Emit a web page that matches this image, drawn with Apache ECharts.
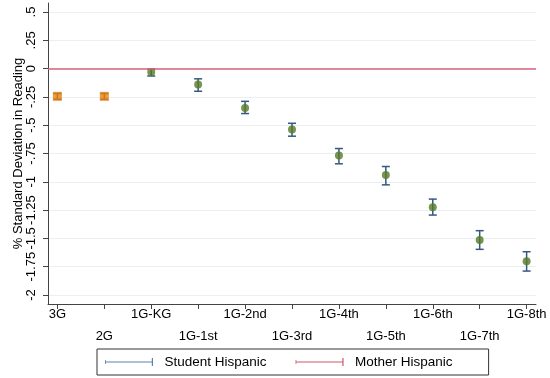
<!DOCTYPE html>
<html>
<head>
<meta charset="utf-8">
<script src="https://cdn.jsdelivr.net/npm/echarts@6/dist/echarts.min.js"></script>
<style>
  html, body { margin: 0; padding: 0; background: #fff; }
  #chart { width: 550px; height: 378px; }
</style>
</head>
<body>
<div id="chart"></div>
<script>
// Generation / grade of arrival groups along the x axis
const categories = ['3G', '2G', '1G-KG', '1G-1st', '1G-2nd', '1G-3rd', '1G-4th', '1G-5th', '1G-6th', '1G-7th', '1G-8th'];

// Point estimates (SD units) and 95% confidence bounds
const estimates = [-0.245, -0.245, -0.03, -0.14, -0.347, -0.538, -0.768, -0.941, -1.224, -1.515, -1.703];
const ciLow     = [-0.27, -0.27, -0.065, -0.20, -0.397, -0.597, -0.841, -1.027, -1.294, -1.597, -1.789];
const ciHigh    = [-0.22, -0.22, -0.005, -0.09, -0.289, -0.483, -0.706, -0.865, -1.153, -1.432, -1.618];

// Which groups are native-born generations (square markers)
const generationGroups = ['3G', '2G'];

// Y axis tick values and labels
const yTicks = [-2, -1.75, -1.5, -1.25, -1, -0.75, -0.5, -0.25, 0, 0.25, 0.5];
const yTickLabels = ['-2', '-1.75', '-1.5', '-1.25', '-1', '-.75', '-.5', '-.25', '0', '.25', '.5'];

const legendNames = ['Student Hispanic', 'Mother Hispanic'];

const xIdx = categories.map((_, i) => i);
const genPoints = [], arrivalPoints = [], barData = [];
categories.forEach((c, i) => {
  const pt = [i, estimates[i]];
  if (generationGroups.includes(c)) genPoints.push(pt); else arrivalPoints.push(pt);
  barData.push([i, ciLow[i], ciHigh[i]]);
});

const font = 'Liberation Sans, Arial, sans-serif';
const chart = echarts.init(document.getElementById('chart'));

// capped horizontal line used as legend key
const capIcon = 'path://M0,4.25h60v1.5h-60z M58.5,0h1.5v10h-1.5z M0,2.5h1v5h-1z';

chart.setOption({
  animation: false,
  backgroundColor: '#fff',
  grid: { left: 48, top: 3, width: 488, height: 301, containLabel: false },
  xAxis: {
    type: 'value',
    min: -0.2,
    max: categories.length - 1 + 0.2,
    axisLine: { show: true, onZero: false, lineStyle: { color: '#444', width: 1 } },
    axisTick: { show: true, length: 5, customValues: xIdx, lineStyle: { color: '#444' } },
    axisLabel: {
      customValues: xIdx,
      margin: -1,
      color: '#000',
      fontFamily: font,
      fontSize: 13,
      lineHeight: 22,
      formatter: v => (v % 2 === 1 ? '\n' : '') + categories[Math.round(v)]
    },
    splitLine: { show: false }
  },
  yAxis: {
    type: 'value',
    min: -2.08,
    max: 0.58,
    name: '% Standard Deviation in Reading',
    nameLocation: 'middle',
    nameRotate: 90,
    nameGap: 23,
    nameMoveOverlap: false,
    nameTextStyle: { color: '#000', fontFamily: font, fontSize: 13 },
    axisLine: { show: true, onZero: false, lineStyle: { color: '#444', width: 1 } },
    axisTick: { show: true, length: 5, customValues: yTicks, lineStyle: { color: '#444' } },
    axisLabel: {
      customValues: yTicks,
      rotate: 90,
      margin: 10,
      color: '#000',
      fontFamily: font,
      fontSize: 13,
      formatter: v => {
        const k = yTicks.findIndex(t => Math.abs(t - v) < 1e-6);
        return k >= 0 ? yTickLabels[k] : '';
      }
    },
    splitLine: { show: true, customValues: yTicks, lineStyle: { color: '#eaeff4', width: 1 } }
  },
  legend: {
    left: 97,
    top: 349,
    orient: 'horizontal',
    padding: [6, 36, 6, 8],
    borderColor: '#333',
    borderWidth: 1,
    itemWidth: 53,
    itemHeight: 8,
    itemGap: 29,
    textStyle: { color: '#000', fontFamily: font, fontSize: 13.5, padding: [0, 0, 0, 4] },
    data: [
      { name: legendNames[0], icon: capIcon, itemStyle: { color: '#5b82ad' } },
      { name: legendNames[1], icon: capIcon, itemStyle: { color: '#c95a6c' } }
    ],
    selectedMode: false
  },
  series: [
    {
      name: legendNames[1],
      type: 'line',
      data: [],
      silent: true,
      markLine: {
        symbol: 'none',
        silent: true,
        label: { show: false },
        lineStyle: { color: '#d8627b', width: 1.5, type: 'solid' },
        data: [{ yAxis: 0 }]
      }
    },
    {
      name: legendNames[0],
      type: 'custom',
      data: barData,
      z: 3,
      renderItem: (params, api) => {
        const x = api.value(0);
        const lo = api.coord([x, api.value(1)]);
        const hi = api.coord([x, api.value(2)]);
        const w = 4;
        const style = { stroke: '#35597f', lineWidth: 1.5 };
        return {
          type: 'group',
          children: [
            { type: 'line', shape: { x1: lo[0], y1: lo[1], x2: hi[0], y2: hi[1] }, style },
            { type: 'line', shape: { x1: lo[0] - w, y1: lo[1], x2: lo[0] + w, y2: lo[1] }, style },
            { type: 'line', shape: { x1: hi[0] - w, y1: hi[1], x2: hi[0] + w, y2: hi[1] }, style }
          ]
        };
      }
    },
    {
      name: 'Generation',
      type: 'scatter',
      data: genPoints,
      symbol: 'rect',
      symbolSize: 9,
      z: 4,
      itemStyle: { color: '#e8820e' }
    },
    {
      name: 'Arrival grade',
      type: 'scatter',
      data: arrivalPoints,
      symbol: 'circle',
      symbolSize: 8,
      z: 4,
      itemStyle: { color: '#557a25' }
    }
  ]
});
</script>
</body>
</html>
